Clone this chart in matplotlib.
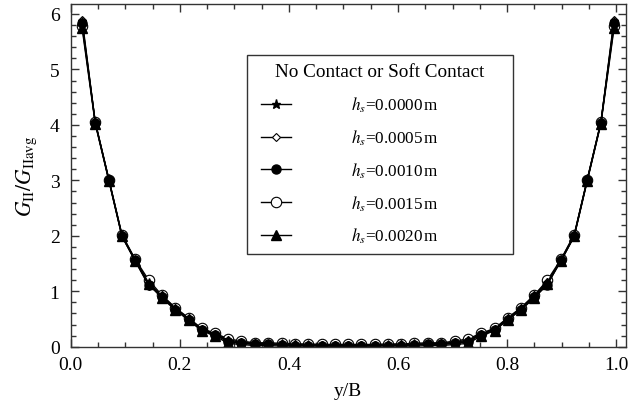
import matplotlib
matplotlib.use("Agg")
import matplotlib.pyplot as plt
from matplotlib.patches import Rectangle
from matplotlib.ticker import MultipleLocator, FormatStrFormatter

plt.rcParams['font.family'] = ['Liberation Serif', 'DejaVu Serif']
plt.rcParams['mathtext.fontset'] = 'stix'

# y/B positions of the points
yB = [0.021, 0.045, 0.070, 0.094, 0.118, 0.143, 0.167, 0.192, 0.216, 0.240,
      0.265, 0.289, 0.313, 0.338, 0.362, 0.387, 0.411, 0.435, 0.460, 0.484,
      0.508, 0.533, 0.557, 0.582, 0.606, 0.630, 0.655, 0.679, 0.704, 0.728,
      0.752, 0.777, 0.801, 0.825, 0.850, 0.874, 0.899, 0.923, 0.947, 0.972,
      0.996]

# G_II / G_IIavg for each hs
g_hs0000 = [5.85, 4.05, 3.02, 2.01, 1.57, 1.15, 0.91, 0.68, 0.50, 0.31,
            0.22, 0.10, 0.07, 0.05, 0.05, 0.04, 0.03, 0.03, 0.02, 0.02,
            0.02, 0.02, 0.02, 0.03, 0.03, 0.04, 0.05, 0.05, 0.07, 0.10,
            0.22, 0.31, 0.50, 0.68, 0.91, 1.15, 1.57, 2.01, 3.02, 4.05,
            5.85]
g_hs0005 = [5.90, 4.04, 3.00, 1.99, 1.55, 1.10, 0.93, 0.69, 0.51, 0.32,
            0.23, 0.12, 0.08, 0.06, 0.05, 0.04, 0.04, 0.03, 0.03, 0.03,
            0.03, 0.03, 0.03, 0.03, 0.04, 0.04, 0.05, 0.06, 0.08, 0.12,
            0.23, 0.32, 0.51, 0.69, 0.93, 1.17, 1.55, 1.99, 3.00, 4.04,
            5.90]
g_hs0010 = [5.83, 4.04, 3.01, 2.00, 1.56, 1.12, 0.89, 0.67, 0.49, 0.30,
            0.21, 0.09, 0.06, 0.04, 0.04, 0.03, 0.02, 0.02, 0.02, 0.01,
            0.01, 0.01, 0.02, 0.02, 0.02, 0.03, 0.04, 0.04, 0.06, 0.09,
            0.21, 0.30, 0.49, 0.67, 0.89, 1.12, 1.56, 2.00, 3.01, 4.04,
            5.83]
g_hs0015 = [5.78, 4.05, 3.01, 2.02, 1.58, 1.20, 0.93, 0.70, 0.52, 0.33,
            0.24, 0.14, 0.10, 0.07, 0.07, 0.06, 0.05, 0.05, 0.04, 0.04,
            0.04, 0.04, 0.04, 0.05, 0.05, 0.06, 0.07, 0.07, 0.10, 0.14,
            0.24, 0.33, 0.52, 0.70, 0.93, 1.20, 1.58, 2.02, 3.01, 4.05,
            5.78]
g_hs0020 = [5.74, 4.02, 2.99, 1.99, 1.55, 1.13, 0.88, 0.66, 0.48, 0.29,
            0.19, 0.06, 0.04, 0.02, 0.02, 0.01, 0.01, 0.01, 0.01, 0.01,
            0.01, 0.01, 0.01, 0.01, 0.01, 0.01, 0.02, 0.02, 0.04, 0.06,
            0.19, 0.29, 0.48, 0.66, 0.88, 1.13, 1.55, 1.99, 2.99, 4.02,
            5.74]

labels = [r'$h_s$=0.0000$\,$m', r'$h_s$=0.0005$\,$m', r'$h_s$=0.0010$\,$m',
          r'$h_s$=0.0015$\,$m', r'$h_s$=0.0020$\,$m']

fig = plt.figure(figsize=(6.4, 4.06), dpi=100)
ax = fig.add_axes([70.7/640, 1-347.7/406, 555.3/640, 342.7/406])

kw = dict(color='black', lw=1.0, mec='black')
l15, = ax.plot(yB, g_hs0015, marker='o', ms=7.5, mfc='white', mew=0.8, **kw)
l5, = ax.plot(yB, g_hs0005, marker='D', ms=4.5, mfc='white', mew=0.8, **kw)
l0, = ax.plot(yB, g_hs0000, marker='*', ms=6.5, mfc='black', **kw)
l10, = ax.plot(yB, g_hs0010, marker='o', ms=6.5, mfc='black', **kw)
l20, = ax.plot(yB, g_hs0020, marker='^', ms=6.5, mfc='black', **kw)

ax.set_xlim(0, 1.018)
ax.set_ylim(0, 6.18)
ax.xaxis.set_major_locator(MultipleLocator(0.2))
ax.xaxis.set_minor_locator(MultipleLocator(0.05))
ax.yaxis.set_major_locator(MultipleLocator(1))
ax.yaxis.set_minor_locator(MultipleLocator(0.2))
ax.xaxis.set_major_formatter(FormatStrFormatter('%.1f'))
ax.tick_params(which='both', direction='in', top=True, right=True,
               labelsize=14, colors='#333333', labelcolor='black')
ax.tick_params(which='major', length=6, width=1)
ax.tick_params(which='minor', length=3.3, width=1)
ax.tick_params(axis='x', pad=7)
ax.tick_params(axis='y', pad=8)
for s in ax.spines.values():
    s.set_color('#333333')
    s.set_linewidth(1.0)

ax.set_xlabel('y/B', fontsize=14, labelpad=6)
ax.set_ylabel(r'$G_{\mathrm{II}}/G_{\mathrm{II avg}}$', fontsize=15.5, labelpad=8)

# legend box
x0, x1 = (247-70.7)/555.3, (513-70.7)/555.3
yb, yt = 1-(255-5)/342.7, 1-(56-5)/342.7
ax.add_patch(Rectangle((x0, yb), x1-x0, yt-yb, transform=ax.transAxes,
                       fill=False, ec='#333333', lw=1.0, zorder=5))
ax.text((x0+x1)/2, 1-(73-5)/342.7, 'No Contact or Soft Contact',
        transform=ax.transAxes, ha='center', va='center', fontsize=13.8)
ax.legend([l0, l5, l10, l15, l20], labels, loc='upper left',
          bbox_to_anchor=((261-70.7)/555.3, 1-(96-5)/342.7),
          frameon=False, fontsize=12.3, handlelength=1.74, handletextpad=3.5,
          labelspacing=0.78, borderpad=0, borderaxespad=0)

fig.savefig('out.png', dpi=100)
